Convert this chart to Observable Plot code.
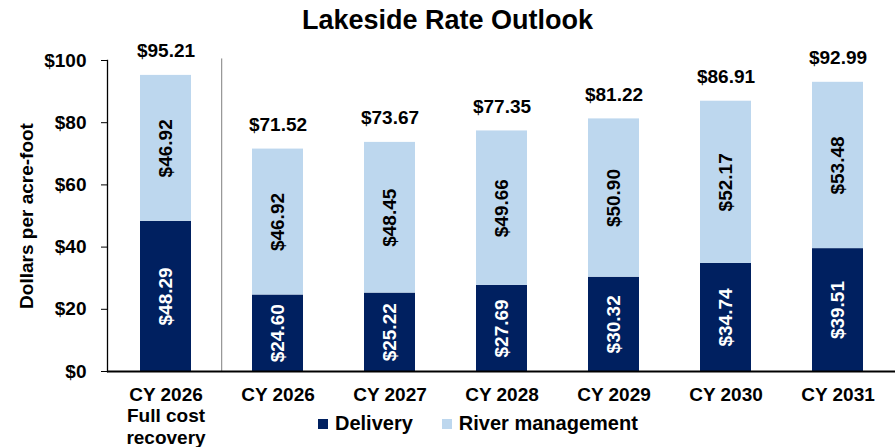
<!DOCTYPE html>
<html>
<head>
<meta charset="utf-8">
<script src="https://cdn.jsdelivr.net/npm/d3@7"></script>
<script src="https://cdn.jsdelivr.net/npm/@observablehq/plot@0.6"></script>
<style>
  body { margin: 0; background: #fff; font-family: "Liberation Sans", Arial, sans-serif; }
  #wrap { position: relative; width: 895px; height: 447px; overflow: hidden; }
  #title { height: 40px; line-height: 40px; text-align: center; font-weight: bold; font-size: 27px; color: #000; }
  #legend { position: absolute; left: 318px; top: 412px; display: flex; align-items: center; font-weight: bold; font-size: 20px; color: #000; }
  #legend .sw { width: 10px; height: 10px; display: inline-block; margin-right: 7px; }
  #legend .item { display: flex; align-items: center; margin-right: 29px; }
  #chart svg { overflow: visible; }
</style>
</head>
<body>
<div id="wrap">
  <div id="title">Lakeside Rate Outlook</div>
  <div id="chart"></div>
  <div id="legend"></div>
</div>
<script>
const categories = ["CY 2026\nFull cost\nrecovery", "CY 2026", "CY 2027", "CY 2028", "CY 2029", "CY 2030", "CY 2031"];
const seriesNames = ["Delivery", "River management"];
const seriesColors = ["#002060", "#BDD7EE"];
const delivery = [48.29, 24.60, 25.22, 27.69, 30.32, 34.74, 39.51];
const riverManagement = [46.92, 46.92, 48.45, 49.66, 50.90, 52.17, 53.48];
const totals = [95.21, 71.52, 73.67, 77.35, 81.22, 86.91, 92.99];
const yTicks = [0, 20, 40, 60, 80, 100];

const rows = [];
categories.forEach((c, i) => {
  rows.push({cat: c, series: seriesNames[0], value: delivery[i]});
  rows.push({cat: c, series: seriesNames[1], value: riverManagement[i]});
});
const totalRows = categories.map((c, i) => ({cat: c, total: totals[i]}));
const fmt = v => "$" + v.toFixed(2);

const W = 895, mL = 107, mR = 0;
const step = (W - mL - mR) / categories.length;

const chart = Plot.plot({
  width: W,
  height: 407,
  marginTop: 20,
  marginBottom: 76,
  marginLeft: mL,
  marginRight: mR,
  style: {fontFamily: "'Liberation Sans', Arial, sans-serif", fontWeight: "bold", color: "#000", background: "#fff"},
  x: {domain: categories, paddingInner: 0.547, paddingOuter: 0.2735, label: null},
  y: {domain: [0, 100], label: null},
  color: {domain: seriesNames, range: seriesColors},
  marks: [
    Plot.barY(rows, {x: "cat", y: "value", fill: "series", order: seriesNames}),
    Plot.text(rows, Plot.stackY({x: "cat", y: "value", z: "series", order: seriesNames, text: d => fmt(d.value), rotate: -90,
      fill: d => d.series === seriesNames[0] ? "#ffffff" : "#000000", fontSize: 19, fontWeight: "bold"})),
    Plot.text(totalRows, {x: "cat", y: "total", text: d => fmt(d.total), dy: -24, fontSize: 19, fontWeight: "bold", fill: "#000"}),
    Plot.ruleX([categories[1]], {x: d => d, dx: -step / 2, y1: 0, y2: 100.5, stroke: "#7f7f7f", strokeWidth: 1}),
    Plot.frame({anchor: "left", stroke: "#000", strokeWidth: 1.3}),
    Plot.ruleY([0], {stroke: "#000", strokeWidth: 2}),
    Plot.axisY({ticks: yTicks, tickFormat: d => "$" + d, tickSize: 6, tickPadding: 15, fontSize: 19, fontWeight: "bold",
      label: "Dollars per acre-foot", labelAnchor: "center", labelArrow: "none", labelOffset: 88}),
    Plot.axisX({tickSize: 0, tickPadding: 14, fontSize: 19, fontWeight: "bold", lineHeight: 1.13, label: null})
  ]
});
document.getElementById("chart").appendChild(chart);

const legend = document.getElementById("legend");
seriesNames.forEach((s, i) => {
  const item = document.createElement("span");
  item.className = "item";
  const sw = document.createElement("span");
  sw.className = "sw";
  sw.style.background = seriesColors[i];
  item.appendChild(sw);
  item.appendChild(document.createTextNode(s));
  legend.appendChild(item);
});
</script>
</body>
</html>
